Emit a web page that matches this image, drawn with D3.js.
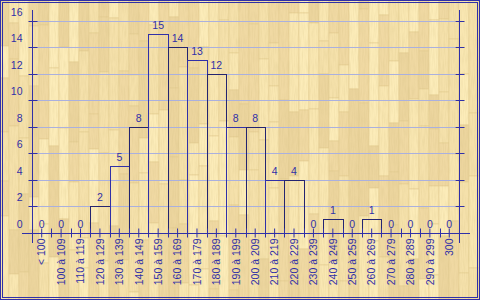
<!DOCTYPE html>
<html>
<head>
<meta charset="utf-8">
<script src="https://cdn.jsdelivr.net/npm/d3@7"></script>
<style>
  body { margin: 0; padding: 0; background: #f5e2ad; }
  svg { display: block; }
  text { font-family: "Liberation Sans", Arial, sans-serif; fill: #3030a8; }
</style>
</head>
<body>
<div id="chart"></div>
<script>
// data
var categories = ["< 100", "100 à 109", "110 à 119", "120 à 129", "130 à 139", "140 à 149",
  "150 à 159", "160 à 169", "170 à 179", "180 à 189", "190 à 199", "200 à 209",
  "210 à 219", "220 à 229", "230 à 239", "240 à 249", "250 à 259", "260 à 269",
  "270 à 279", "280 à 289", "290 à 299", "300"];
var counts = [0, 0, 0, 2, 5, 8, 15, 14, 13, 12, 8, 8, 4, 4, 0, 1, 0, 1, 0, 0, 0, 0];
var yTicks = [0, 2, 4, 6, 8, 10, 12, 14, 16];

var W = 480, H = 300;
var blue = "#3030a8", dark = "#242470", grid = "#aab0de";

var svg = d3.select("#chart").append("svg")
  .attr("width", W)
  .attr("height", H);

// wood parquet background
var defs = svg.append("defs");
var f = defs.append("filter").attr("id", "grain")
  .attr("x", 0).attr("y", 0).attr("width", "100%").attr("height", "100%");
f.append("feTurbulence").attr("type", "fractalNoise")
  .attr("baseFrequency", "0.9 0.08").attr("numOctaves", 2).attr("seed", 3);
f.append("feColorMatrix").attr("type", "matrix")
  .attr("values", "0 0 0 0 0.6  0 0 0 0 0.48  0 0 0 0 0.2  0 0 0 -1.6 1.05");

var shades = ["#fcecb9", "#f5e1ab", "#f0d9a3", "#f9e7b2", "#ecd59e"];
function hash(i, j) {
  var s = Math.sin(i * 12.9898 + j * 78.233) * 43758.5453;
  return s - Math.floor(s);
}
var bg = svg.append("g");
for (var c = 0; c < 49; c++) {
  var x0 = -1 + c * 10;
  var yy = -Math.floor(hash(c, 0) * 80);
  var k = 1;
  while (yy < H) {
    var len = 30 + Math.floor(hash(c, k) * 90);
    bg.append("rect")
      .attr("x", x0).attr("y", yy)
      .attr("width", 10).attr("height", len)
      .attr("fill", shades[Math.floor(hash(k, c) * shades.length)])
      .attr("stroke", "#e4cc92").attr("stroke-width", 0.6);
    yy += len;
    k++;
  }
}
svg.append("rect").attr("width", W).attr("height", H)
  .attr("filter", "url(#grain)").attr("opacity", 0.22);

// frame
svg.append("rect").attr("x", 0.5).attr("y", 0.5).attr("width", W - 1).attr("height", H - 1)
  .attr("fill", "none").attr("stroke", blue);
svg.append("rect").attr("x", 2.5).attr("y", 2.5).attr("width", W - 5).attr("height", H - 5)
  .attr("fill", "none").attr("stroke", blue);

// scales
var left = 32, right = 459, top0 = 20.7, base = 232.5;
var x = d3.scaleBand().domain(categories).range([left, right]).padding(0);
var y = d3.scaleLinear().domain([0, 16]).range([base, top0]);
function px(v) { return Math.round(v) + 0.5; }

// gridlines
svg.append("g").selectAll("line")
  .data(yTicks.filter(function(d) { return d > 0; }))
  .enter().append("line")
  .attr("x1", left + 5).attr("x2", right - 4)
  .attr("y1", function(d) { return px(y(d)); })
  .attr("y2", function(d) { return px(y(d)); })
  .attr("stroke", grid);

// bars
var bars = counts.map(function(v, i) { return { c: categories[i], v: v, i: i }; });
svg.append("g").selectAll("rect")
  .data(bars.filter(function(d) { return d.v > 0; }))
  .enter().append("rect")
  .attr("x", function(d) { return px(x(d.c)); })
  .attr("width", function(d) { return Math.round(x(d.c) + x.bandwidth()) - Math.round(x(d.c)); })
  .attr("y", function(d) { return px(y(d.v)); })
  .attr("height", function(d) { return Math.round(y(0)) - Math.round(y(d.v)); })
  .attr("fill", "none")
  .attr("stroke", function(d) { return d.i % 2 ? dark : blue; });

// value labels
svg.append("g").selectAll("text")
  .data(bars)
  .enter().append("text")
  .attr("x", function(d) { return x(d.c) + x.bandwidth() / 2; })
  .attr("y", function(d) { return y(d.v) - 5; })
  .attr("text-anchor", "middle")
  .style("font-size", "10.5px")
  .text(function(d) { return d.v; });

// left axis
var yl = svg.append("g")
  .attr("transform", "translate(" + px(left) + ",0)")
  .call(d3.axisLeft(y).tickValues(yTicks).tickSize(4).tickPadding(6));
yl.select(".domain").remove();
yl.selectAll(".tick line").attr("x1", -4).attr("x2", 5).attr("stroke", blue);
yl.selectAll(".tick text")
  .attr("dy", "-0.55em")
  .style("font-size", "10.5px")
  .attr("fill", blue);
yl.selectAll(".tick").attr("transform", function(d) { return "translate(0," + px(y(d)) + ")"; });

// right axis
var yr = svg.append("g")
  .attr("transform", "translate(" + px(right) + ",0)")
  .call(d3.axisRight(y).tickValues(yTicks.filter(function(d) { return d > 0; })).tickSize(4).tickFormat(""));
yr.select(".domain").remove();
yr.selectAll(".tick line").attr("x1", -4).attr("x2", 5).attr("stroke", blue);
yr.selectAll(".tick").attr("transform", function(d) { return "translate(0," + px(y(d)) + ")"; });

// axis lines
svg.append("line").attr("x1", px(left)).attr("x2", px(left))
  .attr("y1", 10).attr("y2", 243).attr("stroke", blue);
svg.append("line").attr("x1", px(right)).attr("x2", px(right))
  .attr("y1", 10).attr("y2", 243).attr("stroke", blue);
svg.append("line").attr("x1", 22).attr("x2", 470)
  .attr("y1", px(base)).attr("y2", px(base)).attr("stroke", blue);

// bottom axis: centre ticks + rotated labels
var xa = svg.append("g")
  .attr("transform", "translate(0," + px(base) + ")")
  .call(d3.axisBottom(x).tickSize(5).tickPadding(4));
xa.select(".domain").remove();
xa.selectAll(".tick line").attr("y1", -5).attr("y2", 4).attr("stroke", blue);
xa.selectAll(".tick text")
  .attr("transform", "rotate(-90)")
  .attr("x", -5).attr("y", 0).attr("dy", "0.36em")
  .attr("text-anchor", "end")
  .style("font-size", "10.5px")
  .attr("fill", blue);

// boundary ticks between classes
svg.append("g").selectAll("line")
  .data(categories.slice(1))
  .enter().append("line")
  .attr("x1", function(d) { return px(x(d)); })
  .attr("x2", function(d) { return px(x(d)); })
  .attr("y1", base - 4).attr("y2", base + 5)
  .attr("stroke", blue);
</script>
</body>
</html>
